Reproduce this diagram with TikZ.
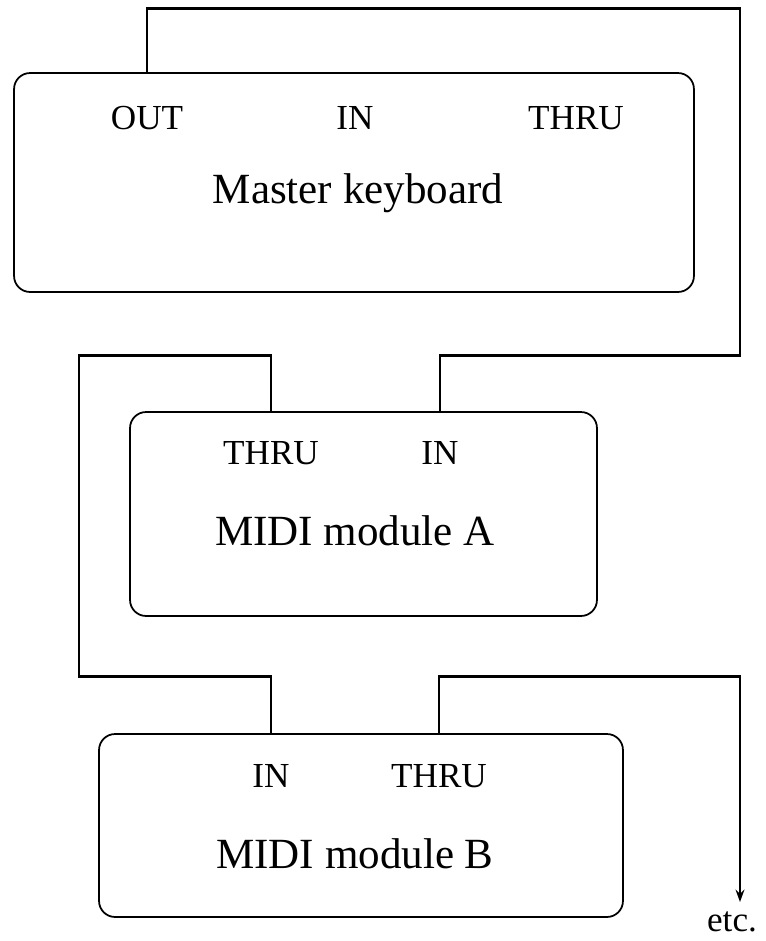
\documentclass[tikz,border=0pt]{standalone}
\usepackage{fontspec}
\setmainfont{Liberation Serif}
\usetikzlibrary{arrows.meta}

\begin{document}
\begin{tikzpicture}[
    x=0.02cm, y=-0.02cm,
    unit/.style={
      rectangle, draw=black, line width=1pt,
      rounded corners=0.32cm
    },
    port/.style={
      anchor=base, inner sep=0pt,
      font=\fontsize{20}{24}\selectfont
    },
    title/.style={
      anchor=base, inner sep=0pt,
      font=\fontsize{24.5}{29}\selectfont
    },
    wire/.style={-, line width=1.7pt, black}
  ]
    \useasboundingbox (0,0) rectangle (765,941);

    \node[unit, minimum width=13.6cm,  minimum height=4.38cm] (master) at (354,182.5) {};
    \node[unit, minimum width=9.34cm,  minimum height=4.08cm] (modA)   at (363.5,514) {};
    \node[unit, minimum width=10.48cm, minimum height=3.66cm] (modB)   at (361,825.5) {};

    \node[port] (mOut)  at (147,129) {OUT};
    \node[port] (mIn)   at (355,129) {IN};
    \node[port] (mThru) at (576,129) {THRU};
    \node[title] (mName) at (358,203) {Master keyboard};

    \node[port] (aThru) at (271,464) {THRU};
    \node[port] (aIn)   at (440,464) {IN};
    \node[title] (aName) at (355,545) {MIDI module A};

    \node[port] (bIn)   at (271,787) {IN};
    \node[port] (bThru) at (439,787) {THRU};
    \node[title] (bName) at (355,868) {MIDI module B};

    \node[port] (etc) at (732,931) {etc.};

    \coordinate (r1)  at (740,8);
    \coordinate (r2)  at (740,355);
    \coordinate (l1)  at (79,355);
    \coordinate (l2)  at (79,676);
    \coordinate (r3)  at (740,676);
    \coordinate (tip) at (740,902);

    \draw[wire] (mOut |- master.north) |- (r1) -- (r2) -| (aIn |- modA.north);
    \draw[wire] (aThru |- modA.north) |- (l1) -- (l2) -| (bIn |- modB.north);
    \draw[wire, -{Stealth[length=7pt, width=5pt]}] (bThru |- modB.north) |- (r3) -- (tip);
  \end{tikzpicture}
\end{document}
